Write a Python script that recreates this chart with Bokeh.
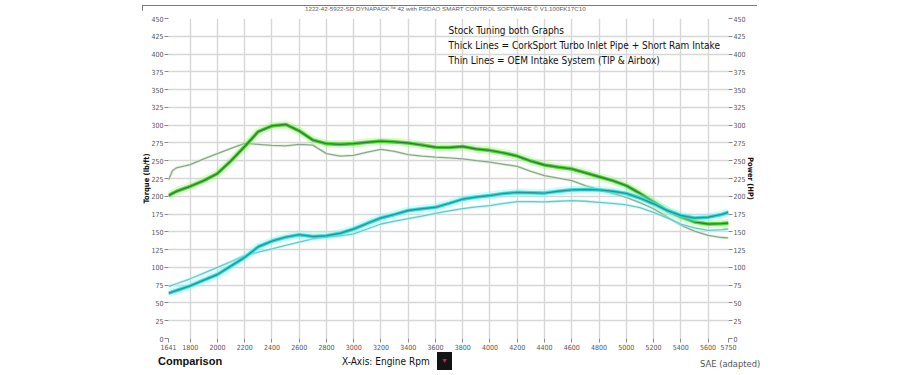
from bokeh.plotting import figure
from bokeh.models import Range1d, LinearAxis, FixedTicker, Label, Div
from bokeh.layouts import column
from bokeh.embed import file_html
from bokeh.resources import INLINE

# ---- data ----
rpm = [1641, 1670, 1700, 1800, 1900, 2000, 2100, 2200, 2300, 2400, 2500, 2600, 2700,
       2800, 2900, 3000, 3100, 3200, 3300, 3400, 3500, 3600, 3700, 3800, 3900, 4000,
       4100, 4200, 4300, 4400, 4500, 4600, 4700, 4800, 4900, 5000, 5100, 5200, 5300,
       5400, 5500, 5600, 5700, 5750]

cork_torque = [201, 204, 207, 214, 222, 232, 250, 270, 291, 299, 301, 292, 279,
               274, 273, 274, 276, 277.5, 276.5, 275, 272, 269, 268.5, 270, 266.5, 264.5,
               261, 256.5, 249.5, 244, 241, 238.5, 233, 227.5, 222, 215, 204, 192, 180,
               171, 164, 161, 161.5, 162.5]

oem_torque = [223, 236, 240, 244.5, 252.5, 260, 267.5, 274.5, 273, 271.5, 271, 273, 272,
              260, 256.5, 257.5, 262, 266, 263, 258.5, 256.5, 255, 254, 252.5, 250, 248,
              245, 242, 235, 229, 225.5, 222, 215, 209.5, 204, 198.5, 191, 182.5, 171,
              159.5, 151, 145, 142, 141.5]

cork_power = [63.5, 65.5, 67.5, 74, 82, 90, 102, 114, 129, 137, 142.5, 146, 143.5,
              144.5, 148, 154, 162, 169.5, 174.5, 180, 182.5, 184.5, 190, 196, 199, 201,
              204, 205.5, 205, 204.5, 207, 209, 209.5, 209, 207, 204, 197.5, 189.5, 180,
              173, 169.5, 170.5, 174.5, 177.5]

oem_power = [73, 75, 77, 84, 92, 100, 108, 116.5, 121.5, 126, 131, 135.5, 140,
             142.5, 144.5, 147, 154, 161, 165, 168.5, 172, 176, 179.5, 182.5, 185, 187,
             190, 192.5, 192.5, 192, 193, 194, 193, 191.5, 190, 188, 184, 177.5, 169.5,
             161, 155.5, 152, 153, 154]

x_ticks = [1641, 1800, 2000, 2200, 2400, 2600, 2800, 3000, 3200, 3400, 3600, 3800,
           4000, 4200, 4400, 4600, 4800, 5000, 5200, 5400, 5600, 5750]
x_grid = [1800, 2000, 2200, 2400, 2600, 2800, 3000, 3200, 3400, 3600, 3800,
          4000, 4200, 4400, 4600, 4800, 5000, 5200, 5400, 5600]
y_ticks = [0, 25, 50, 75, 100, 125, 150, 175, 200, 225, 250, 275, 300, 325, 350,
           375, 400, 425, 450]

header = "1222-42-5922-SD DYNAPACK\u2122 42 with PSDAQ SMART CONTROL SOFTWARE \u00a9 V1.100FK17C10"
note_lines = ["Stock Tuning both Graphs",
              "Thick Lines = CorkSport Turbo Inlet Pipe + Short Ram Intake",
              "Thin Lines = OEM Intake System (TIP & Airbox)"]

COND = "DejaVu Sans Condensed"

X0, X1 = 1641, 5750
Y0, Y1 = 0, 450
W, H = 890, 345
FL, FR, FT, FB = 168, 728, 8, 328   # frame in figure px


def dx(fx):
    return X0 + (fx - FL) * (X1 - X0) / (FR - FL)


def dy(fy):
    return Y0 + (FB - fy) * (Y1 - Y0) / (FB - FT)


p = figure(width=W, height=H, x_range=Range1d(X0, X1), y_range=Range1d(Y0, Y1),
           output_backend="svg", toolbar_location=None,
           min_border_left=FL, min_border_right=W - FR,
           min_border_top=FT, min_border_bottom=H - FB)
p.outline_line_color = None
p.background_fill_color = "white"
p.border_fill_color = "white"
p.extra_y_ranges = {"power": Range1d(Y0, Y1)}

# grids
p.xgrid.ticker = FixedTicker(ticks=x_grid)
p.ygrid.ticker = FixedTicker(ticks=y_ticks[1:])
for g in (p.xgrid, p.ygrid):
    g.grid_line_color = "#d7d7d7"
    g.grid_line_width = 1.4

# axes
xa = p.xaxis[0]
xa.ticker = FixedTicker(ticks=x_ticks)
ya = p.yaxis[0]
ya.ticker = FixedTicker(ticks=y_ticks)
ya.axis_label = "Torque (lb/ft)"
ra = LinearAxis(y_range_name="power", ticker=FixedTicker(ticks=y_ticks),
                axis_label="Power (HP)")
p.add_layout(ra, "right")
for ax in (xa, ya, ra):
    ax.axis_line_color = None
    ax.major_tick_line_color = "#888888"
    ax.major_tick_in = 0
    ax.major_tick_out = 4
    ax.minor_tick_line_color = None
    ax.major_label_text_font = COND
    ax.major_label_text_font_size = "7px"
    ax.major_label_text_color = "#555555"
    ax.major_label_standoff = 1
    ax.axis_label_text_font = COND
    ax.axis_label_text_font_size = "7.5px"
    ax.axis_label_text_font_style = "bold"
    ax.axis_label_text_color = "#111111"
    ax.axis_label_standoff = -3

# thin (OEM) lines
p.line(rpm, oem_torque, line_width=3, color="#d2eec8", alpha=0.6)
p.line(rpm, oem_torque, line_width=1.3, color="#8da58d")
p.line(rpm, oem_power, line_width=3, color="#bff2f2", alpha=0.6)
p.line(rpm, oem_power, line_width=1.3, color="#5fcccc")

# thick (CorkSport) lines with glow
p.line(rpm, cork_torque, line_width=8, color="#9ef27a", alpha=0.35)
p.line(rpm, cork_torque, line_width=3.6, color="#52d436")
p.line(rpm, cork_torque, line_width=1.4, color="#2f7f3a")
p.line(rpm, cork_power, line_width=8, color="#7ff5f5", alpha=0.35)
p.line(rpm, cork_power, line_width=3.6, color="#3fdada")
p.line(rpm, cork_power, line_width=1.4, color="#1f9a9a")

# notes
for i, t in enumerate(note_lines):
    p.add_layout(Label(x=dx(448), y=dy(20 + 15.2 * i), text=t, text_font=COND,
                       text_font_size="10px", text_color="#111111",
                       text_baseline="middle", text_align="left"))

# header (line + software text) and footer as html
FONT_CSS = "font-family:'DejaVu Sans Condensed','Liberation Sans',sans-serif;"
header_html = (
    '<div style="position:relative;width:%dpx;height:10px;overflow:visible;">'
    '<div style="position:absolute;left:142px;top:3px;width:615px;height:0;'
    'border-top:1px solid #7a7a7a;"></div>'
    '<div style="position:absolute;left:142px;top:3px;width:0;height:9px;'
    'border-left:1px solid #7a7a7a;"></div>'
    '<div style="position:absolute;left:305px;top:3px;white-space:nowrap;'
    "font-family:'Liberation Sans',sans-serif;font-size:6.2px;line-height:8px;"
    'color:#555;">%s</div></div>' % (W, header))

footer_html = (
    '<div style="position:relative;width:%dpx;height:17px;overflow:visible;">'
    '<div style="position:absolute;left:158px;top:0px;white-space:nowrap;'
    "font-family:'Liberation Sans',sans-serif;font-size:11px;font-weight:bold;"
    'line-height:13px;color:#111;">Comparison</div>'
    '<div style="position:absolute;left:342px;top:0px;white-space:nowrap;%s'
    'font-size:10px;line-height:13px;color:#111;">X-Axis: Engine Rpm</div>'
    '<div style="position:absolute;left:437px;top:-3px;width:15px;height:18px;'
    'background:#141414;color:#d0205a;font-size:7px;line-height:18px;'
    'text-align:center;">\u25bc</div>'
    '<div style="position:absolute;left:700px;top:2px;white-space:nowrap;%s'
    'font-size:9.3px;line-height:13px;color:#555;">SAE (adapted)</div>'
    '</div>' % (W, FONT_CSS, FONT_CSS))

header_div = Div(text=header_html, width=W, height=10, margin=0)
footer_div = Div(text=footer_html, width=W, height=17, margin=0)

layout = column(header_div, p, footer_div, spacing=0)

open("out.html", "w").write(file_html(layout, INLINE))
